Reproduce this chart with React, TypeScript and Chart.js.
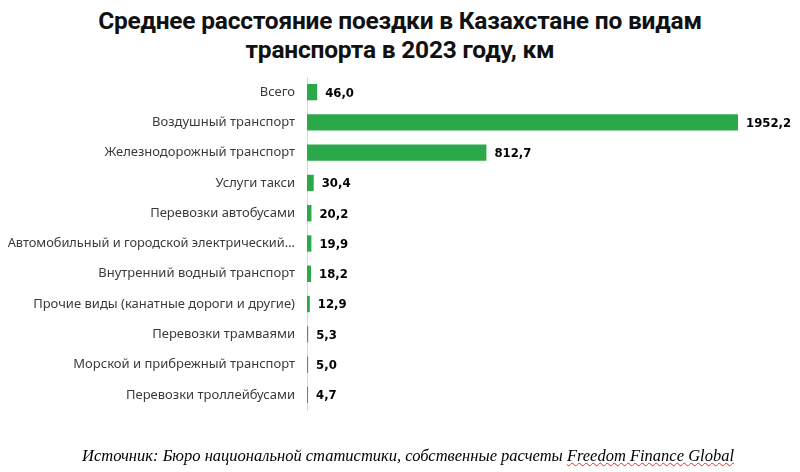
import React, { useEffect, useRef } from "react";
import { Chart, registerables } from "chart.js";

Chart.register(...registerables);

const categories: string[] = [
  "Всего",
  "Воздушный транспорт",
  "Железнодорожный транспорт",
  "Услуги такси",
  "Перевозки автобусами",
  "Автомобильный и городской электрический...",
  "Внутренний водный транспорт",
  "Прочие виды (канатные дороги и другие)",
  "Перевозки трамваями",
  "Морской и прибрежный транспорт",
  "Перевозки троллейбусами",
];

const distances: number[] = [46.0, 1952.2, 812.7, 30.4, 20.2, 19.9, 18.2, 12.9, 5.3, 5.0, 4.7];

const titleLines: string[] = [
  "Среднее расстояние поездки в Казахстане по видам",
  "транспорта в 2023 году, км",
];

const sourcePrefix = "Источник: Бюро национальной статистики, собственные расчеты ";
const sourceSuffix = "Freedom Finance Global";

const valueLabels = {
  id: "valueLabels",
  afterDatasetsDraw(chart: any) {
    const ctx = chart.ctx;
    const meta = chart.getDatasetMeta(0);
    const data = chart.data.datasets[0].data as number[];
    ctx.save();
    ctx.font = "bold 13px 'DejaVu Sans Condensed', 'DejaVu Sans', sans-serif";
    ctx.fillStyle = "#000";
    ctx.textAlign = "left";
    ctx.textBaseline = "middle";
    meta.data.forEach((bar: any, i: number) => {
      const txt = data[i].toFixed(1).replace(".", ",");
      ctx.fillText(txt, bar.x + 8, bar.y + 1);
    });
    ctx.restore();
  },
};

export default function App() {
  const ref = useRef<HTMLCanvasElement | null>(null);

  useEffect(() => {
    if (!ref.current) return;
    const chart = new Chart(ref.current, {
      type: "bar",
      data: {
        labels: categories,
        datasets: [
          {
            data: distances,
            backgroundColor: "#2ba84a",
            borderWidth: 0,
            barPercentage: 0.54,
            categoryPercentage: 1,
          },
        ],
      },
      options: {
        indexAxis: "y",
        animation: false,
        responsive: false,
        maintainAspectRatio: false,
        layout: { padding: { left: 8, right: 62, top: 77, bottom: 62 } },
        plugins: {
          legend: { display: false },
          tooltip: { enabled: false },
          title: { display: false },
        },
        scales: {
          x: {
            display: false,
            min: 0,
            max: 1952.2,
          },
          y: {
            grid: { display: false },
            border: { display: true, color: "#d9d9d9", width: 1 },
            ticks: {
              color: "#3a3a3a",
              font: (c: any) => ({
                family: "'Noto Sans', sans-serif",
                size: categories[c.index] && categories[c.index].length > 40 ? 12.8 : 13,
              }),
              padding: 4,
            },
            afterFit: (scale: any) => {
              scale.width = 299;
            },
          },
        },
      },
      plugins: [valueLabels],
    });
    return () => chart.destroy();
  }, []);

  return (
    <div style={{ position: "fixed", left: 0, top: 0, width: 800, height: 472, background: "#fff", overflow: "hidden" }}>
      <div
        style={{
          position: "absolute",
          left: 0,
          top: 6,
          width: 800,
          textAlign: "center",
          fontFamily: "Roboto, 'Open Sans', sans-serif",
          fontWeight: 700,
          fontSize: 24.5,
          lineHeight: "29px",
          color: "#111",
          letterSpacing: "-0.2px",
        }}
      >
        {titleLines.map((l, i) => (
          <div key={i}>{l}</div>
        ))}
      </div>
      <canvas ref={ref} width={800} height={472} style={{ position: "absolute", left: 0, top: 0, width: 800, height: 472 }} />
      <div
        style={{
          position: "absolute",
          left: 0,
          top: 446,
          width: 816,
          textAlign: "center",
          fontFamily: "'Liberation Serif', 'Times New Roman', serif",
          fontStyle: "italic",
          fontSize: 16.5,
          color: "#000",
        }}
      >
        {sourcePrefix}
        <span style={{ textDecoration: "underline wavy #e03030", textDecorationThickness: "1px" }}>{sourceSuffix}</span>
      </div>
    </div>
  );
}
